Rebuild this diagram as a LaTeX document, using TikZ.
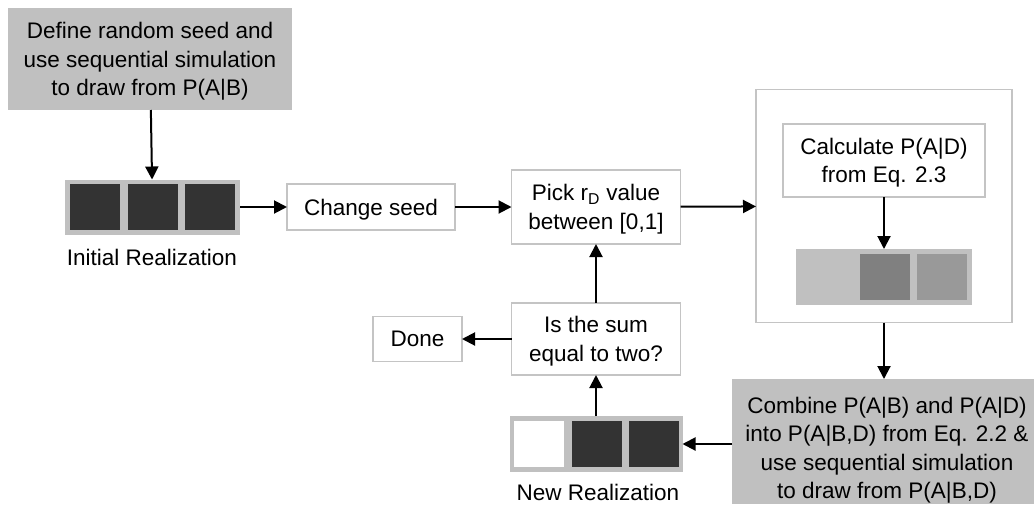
\documentclass[tikz,border=0pt]{standalone}
\usepackage{fontspec}
\setmainfont{Liberation Sans}
\usetikzlibrary{arrows.meta}

\definecolor{boxgray}{RGB}{192,192,192}
\definecolor{edgegray}{RGB}{196,196,196}
\definecolor{celldark}{RGB}{51,51,51}
\definecolor{cellmid}{RGB}{128,128,128}
\definecolor{celllight}{RGB}{153,153,153}

\begin{document}
\begin{tikzpicture}[x=1pt,y=-1pt,
  font=\fontsize{22.5}{28.5}\selectfont,
  every node/.style={inner sep=0pt, outer sep=0pt, align=center},
  flowbox/.style={draw=edgegray, line width=1.5pt, fill=white, text depth=0pt},
  shadedbox/.style={fill=boxgray, text depth=0pt},
  strip/.style={fill=boxgray, minimum width=175pt, minimum height=55pt},
  cell/.style={minimum width=50pt, minimum height=46pt},
  link/.style={line width=2pt, -{Triangle[length=13pt,width=13pt]}}
]
\useasboundingbox (0,0) rectangle (1034,504);

% starting step
\node[shadedbox, minimum width=284pt, minimum height=102pt] (define) at (150,59)
  {Define random seed and\\use sequential simulation\\to draw from P(A|B)};

% initial realization
\node[strip] (init) at (152.5,207) {};
\node[cell, fill=celldark] (init1) at (95,207) {};
\node[cell, fill=celldark] (init2) at (152.5,207) {};
\node[cell, fill=celldark] (init3) at (210,207) {};
\node (initlabel) at (152,257) {Initial Realization};

% top row
\node[flowbox, minimum width=168pt, minimum height=46pt] (change) at (371,207) {Change seed};
\node[flowbox, minimum width=169pt, minimum height=74pt] (pick) at (596,207)
  {Pick r\textsubscript{D} value\\between [0,1]};

% conditional probability block
\node[flowbox, minimum width=256pt, minimum height=233pt] (bigbox) at (884,206) {};
\node[flowbox, minimum width=202pt, minimum height=73pt] (calc) at (884,160.5)
  {Calculate P(A|D)\\from Eq. 2.3};
\node[strip, minimum width=176pt, minimum height=56pt] (inner) at (884,277) {};
\node[cell, fill=boxgray] (inner1) at (827,277) {};
\node[cell, fill=cellmid] (inner2) at (884.5,277) {};
\node[cell, fill=celllight] (inner3) at (942,277) {};

% combination step
\node[shadedbox, minimum width=302pt, minimum height=125pt] (combine) at (883,441.5) {};
\node[text depth=0pt] (combinetext) at (887,448)
  {Combine P(A|B) and P(A|D)\\into P(A|B,D) from Eq. 2.2 \&\\use sequential simulation\\to draw from P(A|B,D)};

% new realization
\node[strip, minimum width=173pt, minimum height=56pt] (newreal) at (596,444) {};
\node[cell, fill=white] (new1) at (539,444) {};
\node[cell, fill=celldark] (new2) at (596.5,444) {};
\node[cell, fill=celldark] (new3) at (654,444) {};
\node (newlabel) at (598,492) {New Realization};

% check and exit
\node[flowbox, minimum width=169pt, minimum height=72pt] (sum) at (596,339)
  {Is the sum\\equal to two?};
\node[flowbox, minimum width=89pt, minimum height=45pt] (done) at (417.5,339) {Done};

% connectors
\draw[link] (define) -- (init);
\draw[link] (init) -- (change);
\draw[link] (change) -- (pick);
\draw[link] (pick) -- (bigbox);
\draw[link] (calc) -- (inner);
\draw[link] (bigbox.south) -- (bigbox.south |- combine.north);
\draw[link] (combine.west |- newreal.east) -- (newreal.east);
\draw[link] (newreal) -- (sum);
\draw[link] (sum) -- (pick);
\draw[link] (sum) -- (done);
\end{tikzpicture}
\end{document}
